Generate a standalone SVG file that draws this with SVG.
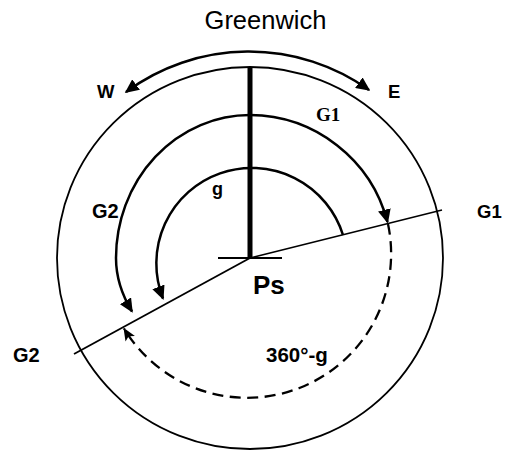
<svg xmlns="http://www.w3.org/2000/svg" width="506" height="451" viewBox="0 0 506 451">
  <style>
    .thin { fill: none; stroke: #000; stroke-width: 1.8; }
    .arc { fill: none; stroke: #000; stroke-width: 2.5; }
    .dash { fill: none; stroke: #000; stroke-width: 2.3; stroke-dasharray: 11 6.5; }
    .lbl { font-family: "Liberation Sans", Arial, sans-serif; font-weight: bold; fill: #000; }
    .ser { font-family: "Liberation Serif", "Times New Roman", serif; font-weight: bold; fill: #000; }
  </style>
  <defs>
    <marker id="ah" viewBox="0 0 14 13" refX="12.5" refY="6.5" markerWidth="14" markerHeight="13" markerUnits="userSpaceOnUse" orient="auto-start-reverse">
      <path d="M0,0 L14,6.5 L0,13 z" fill="#000"/>
    </marker>
    <marker id="ahs" viewBox="0 0 13 11" refX="12" refY="5.5" markerWidth="13" markerHeight="11" markerUnits="userSpaceOnUse" orient="auto">
      <path d="M0,0 L13,5.5 L0,11 L3,5.5 z" fill="#000"/>
    </marker>
  </defs>

  <g id="sphere">
    <ellipse cx="250" cy="258" rx="193" ry="191" class="thin"/>
  </g>

  <g id="meridian">
    <line x1="250" y1="67" x2="250" y2="258" stroke="#000" stroke-width="5"/>
    <line x1="218" y1="258" x2="282" y2="258" class="thin"/>
  </g>

  <g id="connectors">
    <line x1="250" y1="258" x2="442" y2="210" class="thin"/>
    <line x1="250" y1="258" x2="74" y2="354" class="thin"/>
    <path d="M126 92 A207 207 0 0 1 369 90" class="arc" marker-start="url(#ah)" marker-end="url(#ah)"/>
    <path d="M387.5 222 A143 143 0 0 0 250 115 A134 143 0 0 0 116 258 C116 282 125 300 132 311.5" class="arc" marker-start="url(#ah)" marker-end="url(#ah)"/>
    <path d="M343 235 A95.5 95.5 0 1 0 163 298.5" class="arc" marker-end="url(#ah)"/>
    <path d="M388 224 A144 144 0 0 1 124 328.5" class="dash" marker-end="url(#ahs)"/>
  </g>

  <g id="labels">
    <text x="265.5" y="29" font-family="Liberation Sans, Arial, sans-serif" font-size="25.5" text-anchor="middle">Greenwich</text>
    <text x="97" y="98" class="lbl" font-size="18.5">W</text>
    <text x="388" y="98" class="lbl" font-size="18.5">E</text>
    <text x="316" y="121" class="ser" font-size="19">G1</text>
    <text x="212" y="195" class="lbl" font-size="18">g</text>
    <text x="92" y="218" class="lbl" font-size="20">G2</text>
    <text x="477" y="218" class="lbl" font-size="18.5">G1</text>
    <text x="253" y="294" class="lbl" font-size="26">Ps</text>
    <text x="13" y="362" class="lbl" font-size="20">G2</text>
    <text x="266" y="362" class="lbl" font-size="20.5">360°-g</text>
  </g>
</svg>
